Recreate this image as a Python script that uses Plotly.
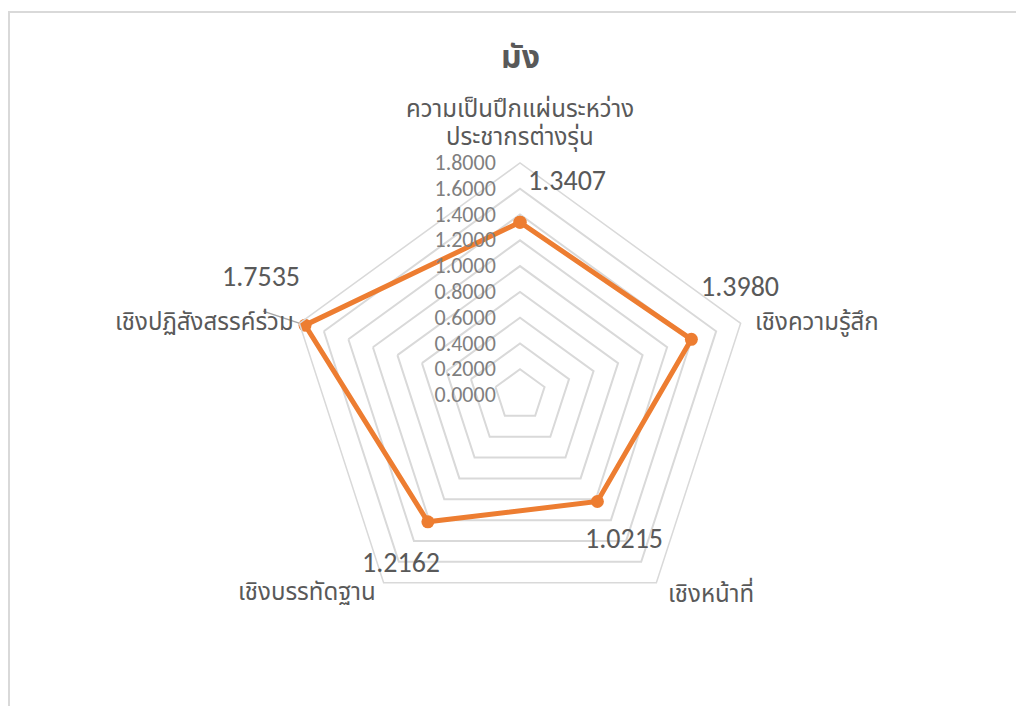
import math
import plotly.graph_objects as go

# ---- data ----
categories = ["ความเป็นปึกแผ่นระหว่าง<br>ประชากรต่างรุ่น", "เชิงความรู้สึก", "เชิงหน้าที่",
              "เชิงบรรทัดฐาน", "เชิงปฏิสังสรรค์ร่วม"]
values = [1.3407, 1.3980, 1.0215, 1.2162, 1.7535]
value_labels = ["1.3407", "1.3980", "1.0215", "1.2162", "1.7535"]
tick_vals = [0.0, 0.2, 0.4, 0.6, 0.8, 1.0, 1.2, 1.4, 1.6, 1.8]
tick_text = ["0.0000", "0.2000", "0.4000", "0.6000", "0.8000", "1.0000",
             "1.2000", "1.4000", "1.6000", "1.8000"]
title_text = "มัง"

# ---- layout geometry (screen pixels; page has an 8px body margin) ----
OFF = 8
W, H = 1024 - OFF, 706 - OFF
CX, CY, R = 520, 395, 232
RMAX = 1.8
THAI = "Leelawadee UI, Tahoma, Noto Sans Thai, Noto Sans, sans-serif"
NUM = "Calibri, Carlito, Lato, Open Sans, sans-serif"
GRID = "#d9d9d9"
TXT = "#595959"
ORANGE = "#ED7D31"


def px(r, i):
    a = math.radians(i * 72)
    rr = r / RMAX * R
    return CX + rr * math.sin(a), CY - rr * math.cos(a)


def paper(x, y):
    return (x - OFF) / W, 1 - (y - OFF) / H


fig = go.Figure()
fig.add_trace(go.Scatterpolar(
    r=values + [values[0]],
    theta=categories + [categories[0]],
    mode="lines+markers",
    line=dict(color=ORANGE, width=5),
    marker=dict(color=ORANGE, size=13),
    hoverinfo="skip",
    showlegend=False,
))

fcx, fcy = CX - OFF, CY - OFF
fig.update_layout(
    width=W, height=H,
    margin=dict(l=0, r=0, t=0, b=0),
    paper_bgcolor="white",
    plot_bgcolor="white",
    showlegend=False,
    polar=dict(
        domain=dict(x=[(fcx - R) / W, (fcx + R) / W],
                    y=[(H - fcy - R) / H, (H - fcy + R) / H]),
        gridshape="linear",
        bgcolor="white",
        radialaxis=dict(
            range=[0, RMAX], tickvals=tick_vals, ticktext=tick_text,
            showline=False, ticks="outside", ticklen=16, tickcolor="rgba(0,0,0,0)",
            angle=90, tickangle=90, side="counterclockwise",
            gridcolor=GRID, gridwidth=1.5,
            tickfont=dict(family=NUM, size=22, color="#7f7f7f"),
        ),
        angularaxis=dict(
            direction="clockwise", rotation=90,
            showgrid=False, showline=True, linecolor=GRID, linewidth=1.5,
            showticklabels=False, ticks="",
        ),
    ),
)

annotations = []
tx, ty = paper(520, 58)
annotations.append(dict(x=tx, y=ty, xref="paper", yref="paper", text="<b>%s</b>" % title_text,
                        showarrow=False, xanchor="center", yanchor="middle",
                        font=dict(family=THAI, size=32, color=TXT)))

# category labels: offset of first line centre from the outer vertex, anchor
cat_specs = [
    ((0, -53), "center"),
    ((12, 0), "left"),
    ((10, 12), "left"),
    ((-6, 10), "right"),
    ((-3, 0), "right"),
]
LINE_GAP = 28
for i, (cat, (off, xa)) in enumerate(zip(categories, cat_specs)):
    vx, vy = px(RMAX, i)
    for k, line in enumerate(cat.split("<br>")):
        x, y = paper(vx + off[0], vy + off[1] + k * LINE_GAP)
        annotations.append(dict(x=x, y=y, xref="paper", yref="paper", text=line,
                                showarrow=False, xanchor=xa, yanchor="middle",
                                font=dict(family=THAI, size=24, color=TXT)))

val_offsets = [(47, -42), (49, -53), (27, 37), (-27, 41), (-44, -49)]
for i, (v, lab, off) in enumerate(zip(values, value_labels, val_offsets)):
    x0, y0 = px(v, i)
    x, y = paper(x0 + off[0], y0 + off[1])
    annotations.append(dict(x=x, y=y, xref="paper", yref="paper", text=lab, showarrow=False,
                            xanchor="center", yanchor="middle",
                            font=dict(family=NUM, size=28, color=TXT)))
fig.update_layout(annotations=annotations)

shapes = []
for i, end in [(1, (48, -17)), (4, (-42, -14))]:
    x0, y0 = px(values[i], i)
    a0, b0 = paper(x0, y0)
    a1, b1 = paper(x0 + end[0], y0 + end[1])
    shapes.append(dict(type="line", xref="paper", yref="paper", x0=a0, y0=b0, x1=a1, y1=b1,
                       line=dict(color="#a6a6a6", width=1.5), layer="below"))
bx0, by1 = paper(9, 12)
shapes.append(dict(type="rect", xref="paper", yref="paper",
                   x0=bx0, y0=-0.05, x1=1.05, y1=by1,
                   line=dict(color=GRID, width=2)))
fig.update_layout(shapes=shapes)

fig.write_html("out.html")
